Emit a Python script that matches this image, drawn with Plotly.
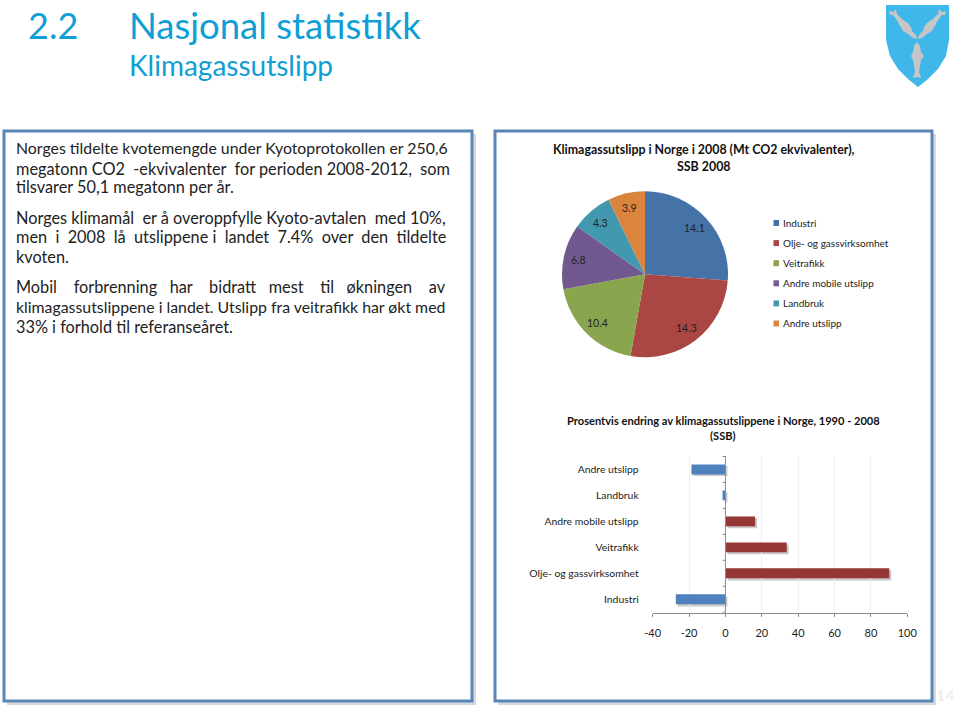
import math
import plotly.graph_objects as go

W, H = 960, 711

pie_labels = ["Industri", "Olje- og gassvirksomhet", "Veitrafikk", "Andre mobile utslipp", "Landbruk", "Andre utslipp"]
pie_values = [14.1, 14.3, 10.4, 6.8, 4.3, 3.9]
pie_colors = ["#4572A7", "#AA4643", "#89A54E", "#71588F", "#4198AF", "#DB843D"]

bar_labels = ["Industri", "Olje- og gassvirksomhet", "Veitrafikk", "Andre mobile utslipp", "Landbruk", "Andre utslipp"]
bar_values = [-27.3, 90.1, 33.7, 16.3, -1.6, -18.7]
x_ticks = [-40, -20, 0, 20, 40, 60, 80, 100]
x_tick_text = ["-40", "-20", "0", "20", "40", "60", "80", "100"]

# (text, font size, number of extra non-breaking spaces spread over the gaps: approximates justified text)
left_lines = [
    ("Norges tildelte kvotemengde under Kyotoprotokollen er 250,6", 15.85, 0),
    ("megatonn CO2 -ekvivalenter for perioden 2008-2012, som", 16.3, 3),
    ("tilsvarer 50,1 megatonn per år.", 16.3, 0),
    ("Norges klimamål er å overoppfylle Kyoto-avtalen med 10%,", 16.3, 2),
    ("men i 2008 lå utslippene i landet 7.4% over den tildelte", 16.3, 9),
    ("kvoten.", 16.3, 0),
    ("Mobil forbrenning har bidratt mest til økningen av", 16.3, 18),
    ("klimagassutslippene i landet. Utslipp fra veitrafikk har økt med", 15.85, 0),
    ("33% i forhold til referanseåret.", 16.3, 0),
]
left_line_y = [147, 168, 187, 217, 237, 257, 286, 306, 327]

FONT = "Lato, Carlito, sans-serif"
TITLE_BLUE = "#0F9ED5"


def px(x):
    return x / W


def py(y):
    return 1 - y / H


def txt(x, y, s, size, color="#111", anchor="left", bold=False):
    return dict(xref="paper", yref="paper", x=px(x), y=py(y), text=f"<b>{s}</b>" if bold else s,
                showarrow=False, xanchor=anchor, yanchor="middle", align="center",
                font=dict(family=FONT, size=size, color=color))


def justify(s, extra):
    words = s.split(" ")
    gaps = len(words) - 1
    out = words[0]
    used = 0
    for i, w in enumerate(words[1:], 1):
        n = round(extra * i / gaps) - used
        used += n
        out += " " + "\u00a0" * n + w
    return out


def frame(x0, y0, x1, y1):
    return [
        dict(type="rect", xref="paper", yref="paper", x0=px(x0 + 3), x1=px(x1 + 4), y0=py(y0 + 3), y1=py(y1 + 4),
             line=dict(width=0), fillcolor="#D6D9DD", layer="below"),
        dict(type="rect", xref="paper", yref="paper", x0=px(x0), x1=px(x1), y0=py(y0), y1=py(y1),
             line=dict(color="#5B86B8", width=3), fillcolor="white", layer="below"),
    ]


def poly(points, fill):
    d = "M " + " L ".join(f"{px(x):.5f},{py(y):.5f}" for x, y in points) + " Z"
    return dict(type="path", xref="paper", yref="paper", path=d, fillcolor=fill, line=dict(width=0), layer="above")


fig = go.Figure()

# pie
cx, cy, r = 645, 274.3, 83
fig.add_trace(go.Pie(labels=pie_labels, values=pie_values, sort=False, direction="clockwise", rotation=0,
                     marker=dict(colors=pie_colors, line=dict(width=0)), textinfo="none",
                     domain=dict(x=[px(cx - r), px(cx + r)], y=[py(cy + r), py(cy - r)]),
                     showlegend=False, hoverinfo="label+value"))

annotations = []
total = sum(pie_values)
acc = 0
for v in pie_values:
    mid = (acc + v / 2) / total * 2 * math.pi
    acc += v
    annotations.append(txt(cx + 0.82 * r * math.sin(mid), cy - 0.82 * r * math.cos(mid), f"{v}", 10.5, "#222", "center"))

# bars: shadow underneath on base axes, bars on overlay axes
bar_colors = ["#4F81BD" if v < 0 else "#953735" for v in bar_values]
fig.add_trace(go.Bar(y=bar_labels, x=bar_values, orientation="h", width=0.38, marker=dict(color="#C9C9C9", line=dict(width=0)),
                     xaxis="x", yaxis="y", showlegend=False, hoverinfo="skip"))
fig.add_trace(go.Bar(y=bar_labels, x=bar_values, orientation="h", width=0.38, marker=dict(color=bar_colors, line=dict(width=0)),
                     xaxis="x2", yaxis="y2", showlegend=False))

x0a, x1a, y0a, y1a = 652.7, 907.3, 456, 612.7
fig.update_layout(
    width=W, height=H, margin=dict(l=0, r=0, t=0, b=0, autoexpand=False), paper_bgcolor="white", plot_bgcolor="rgba(0,0,0,0)",
    font=dict(family=FONT, size=10.5, color="#222"), barmode="overlay", showlegend=False,
    xaxis=dict(domain=[px(x0a + 2), px(x1a + 2)], anchor="y", visible=False, range=[-40, 100]),
    yaxis=dict(domain=[py(y1a + 2), py(y0a + 2)], anchor="x", visible=False, categoryorder="array", categoryarray=bar_labels),
    xaxis2=dict(domain=[px(x0a), px(x1a)], anchor="y2", range=[-40, 100], tickvals=x_ticks, ticktext=x_tick_text,
                showgrid=True, gridcolor="#EFEFEF", gridwidth=1,
                zeroline=False, showline=True, linecolor="#8C8C8C", ticks="outside", ticklen=3, tickcolor="#8C8C8C",
                tickfont=dict(size=11, color="#222"), ticklabelstandoff=7, automargin=False),
    yaxis2=dict(domain=[py(y1a), py(y0a)], anchor="x2", categoryorder="array", categoryarray=bar_labels,
                showgrid=False, zeroline=False, showline=False, ticks="", tickfont=dict(size=10.4, color="#222"),
                ticklabelstandoff=13, automargin=False),
)

annotations += [
    txt(26, 25, "2.2", 36, TITLE_BLUE),
    txt(127, 25, "Nasjonal statistikk", 36.5, TITLE_BLUE),
    txt(127, 65, "Klimagassutslipp", 28, TITLE_BLUE),
    txt(704, 149, "Klimagassutslipp i Norge i 2008 (Mt CO2 ekvivalenter),", 12.4, "#111", "center", True),
    txt(704, 166, "SSB 2008", 12.4, "#111", "center", True),
    txt(723, 420, "Prosentvis endring av klimagassutslippene i Norge, 1990 - 2008", 11.1, "#111", "center", True),
    txt(723, 435, "(SSB)", 11.1, "#111", "center", True),
    txt(945, 694, "14", 16, "#EFEFE8", "center", True),
]
for (s, size, extra), y in zip(left_lines, left_line_y):
    annotations.append(txt(14, y, justify(s, extra), size, "#222"))

shapes = frame(4, 131, 472, 701) + frame(495, 131, 932, 701)

# legend for pie, built from the labels and colours
for i, (name, col) in enumerate(zip(pie_labels, pie_colors)):
    ly = 223 + 20.1 * i
    shapes.append(dict(type="rect", xref="paper", yref="paper", x0=px(773.5), x1=px(779), y0=py(ly + 3), y1=py(ly - 3),
                       fillcolor=col, line=dict(width=0)))
    annotations.append(txt(781, ly, name, 10, "#222"))

# zero line and its category ticks
shapes.append(dict(type="line", xref="x2", yref="paper", x0=0, x1=0, y0=py(y1a), y1=py(y0a), line=dict(color="#8C8C8C", width=1)))
for k in range(len(bar_labels)):
    shapes.append(dict(type="line", xref="x2", yref="y2", x0=-1.6, x1=0, y0=k - 0.5, y1=k - 0.5, line=dict(color="#8C8C8C", width=1)))
shapes.append(dict(type="line", xref="x2", yref="y2", x0=-1.6, x1=0, y0=5.5, y1=5.5, line=dict(color="#8C8C8C", width=1)))

# shield
shapes.append(poly([(886, 5), (949, 5), (949, 40), (946, 56), (938, 69), (928, 79), (918, 87), (908, 79), (898, 69), (890, 56), (886, 40)], "#3FB8E9"))
fish_left = [(889, 11), (893, 12), (896, 9), (897, 14), (902, 19), (908, 23), (911, 27), (912, 31), (916, 35), (917, 39), (913, 38), (908, 34), (903, 31), (900, 26), (897, 20), (893, 15), (890, 15)]
fish_right = [(946, 11), (942, 12), (939, 9), (938, 14), (933, 19), (927, 23), (924, 27), (923, 31), (919, 35), (918, 39), (922, 38), (927, 34), (932, 31), (935, 26), (938, 20), (942, 15), (945, 15)]
fish_bottom = [(917, 42), (920, 46), (921, 52), (924, 56), (921, 60), (920, 66), (919, 72), (921, 78), (917, 77), (913, 78), (915, 72), (914, 66), (913, 60), (911, 56), (913, 52), (914, 46)]
for f in [fish_left, fish_right, fish_bottom]:
    shapes.append(poly(f, "#C4C6C8"))

fig.update_layout(annotations=annotations, shapes=shapes)
fig.write_html("out.html", config={"displayModeBar": False}, post_script="document.body.style.margin='0';")
